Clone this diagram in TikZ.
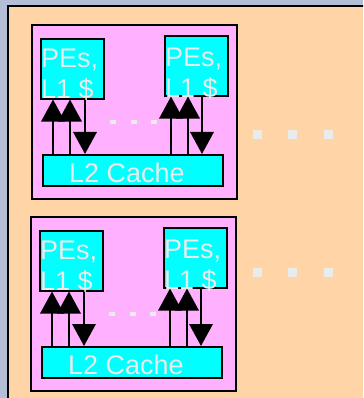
\documentclass[tikz,border=0pt]{standalone}
\usepackage{fontspec}
\setmainfont{Liberation Sans}
\usetikzlibrary{arrows.meta}
\definecolor{slate}{RGB}{180,190,214}
\definecolor{peach}{RGB}{255,213,168}
\definecolor{orchid}{RGB}{255,176,255}
\definecolor{aqua}{RGB}{0,255,255}
\definecolor{chalk}{RGB}{234,236,236}

\begin{document}
\begin{tikzpicture}[x=0.03cm,y=-0.03cm,>={Triangle[width=0.7cm,length=0.66cm]},
    pebox/.style={draw,line width=1.3pt,fill=aqua,rectangle,inner sep=0,minimum width=1.89cm,minimum height=1.8cm,anchor=north west},
    cachebox/.style={pebox,minimum width=5.4cm,minimum height=0.93cm},
    chipbox/.style={draw,line width=1.7pt,fill=orchid,rectangle,inner sep=0,minimum width=6.15cm,minimum height=5.22cm,anchor=north west},
    txt/.style={text=chalk,inner sep=0,font=\fontsize{23}{26.4}\selectfont},
    bus/.style={->,line width=2pt}]
            \useasboundingbox (0,0) rectangle (363,398);
            \clip (0,0) rectangle (363,398);
            \fill[slate] (0,0) rectangle (363,398);
            \draw[line width=1.7pt,fill=peach] (8,6) rectangle (380,420);
            \foreach \dx/\dy/\k in {0/0/1,-1/192/2} {
                \begin{scope}[shift={(\dx,\dy)}]
                \node[chipbox] (chip\k) at (31,24) {};
                \node[pebox] (pea\k) at (40,38) {};
                \node[pebox] (peb\k) at (164,35) {};
                \node[cachebox] (l2\k) at (42,154) {};
                \node[txt,align=left,anchor=north west] (pta\k) at ([xshift=0.03cm,yshift=-0.32cm]pea\k.north west) {PEs,\\L1 \$};
                \node[txt,align=left,anchor=north west] (ptb\k) at ([xshift=0.03cm,yshift=-0.37cm]peb\k.north west) {PEs,\\L1 \$};
                \node[txt,anchor=base west] (l2t\k) at ([xshift=0.81cm,yshift=-0.84cm]l2\k.north west) {L2 Cache};
                \draw[bus] (l2\k.north -| 53,0) -- (pea\k.south -| 53,0);
                \draw[bus] (l2\k.north -| 70,0) -- (pea\k.south -| 70,0);
                \draw[bus] (pea\k.south -| 85,0) -- (l2\k.north -| 85,0);
                \draw[bus] (l2\k.north -| 171,0) -- (peb\k.south -| 171,0);
                \draw[bus] (l2\k.north -| 188,0) -- (peb\k.south -| 188,0);
                \draw[bus] (peb\k.south -| 202,0) -- (l2\k.north -| 202,0);
                \foreach \x in {110,131,151}
                    \fill[chalk] (\x,120) rectangle +(6,4);
                \end{scope}
            }
            \foreach \y in {130,268}
                \foreach \x in {253,288,324}
                    \fill[chalk] (\x,\y) rectangle +(9,9);
        \end{tikzpicture}
\end{document}
